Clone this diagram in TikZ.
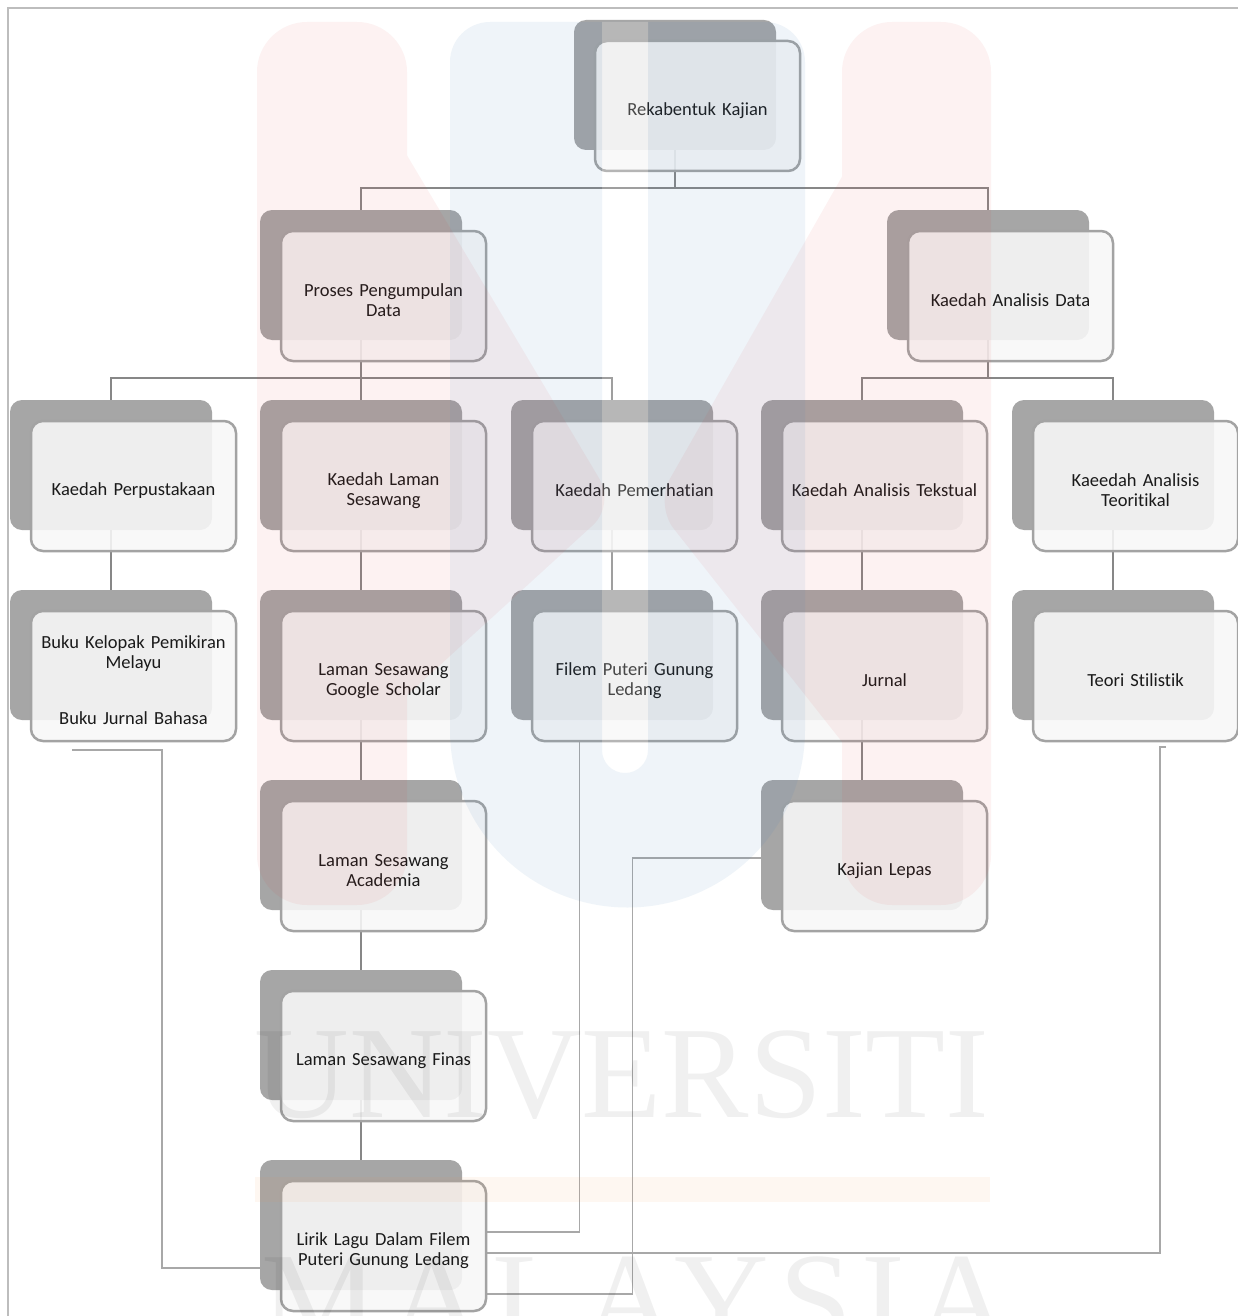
\documentclass[tikz,border=0pt]{standalone}
\usepackage{fontspec}
\setmainfont[Ligatures=NoCommon]{Carlito}
\newfontfamily\wmserif{Liberation Serif}
\usetikzlibrary{calc}
\pgfdeclarelayer{bg}
\pgfdeclarelayer{fg}
\pgfsetlayers{bg,main,fg}
\definecolor{boxgray}{HTML}{A6A6A6}
\definecolor{frontfill}{HTML}{F8F8F8}
\definecolor{bordergray}{HTML}{A3A3A3}
\definecolor{linegray}{HTML}{878787}
\definecolor{sidegray}{HTML}{A8A8A8}
\definecolor{framegray}{HTML}{BDBDBD}
\definecolor{textdark}{HTML}{1A1A1A}
\definecolor{wmpink}{RGB}{225,60,60}
\definecolor{wmblue}{RGB}{70,130,190}
\definecolor{wmorange}{RGB}{250,150,70}
\newcommand\lblfont{\fontsize{18.5}{20}\selectfont}
\newcommand\wmsize{\fontsize{131}{131}\selectfont}
\tikzset{
  backbox/.style={fill=boxgray, rounded corners=12pt, minimum width=202pt, minimum height=130pt, inner sep=0pt, outer sep=0pt},
  frontbox/.style={draw=bordergray, line width=2.5pt, fill=frontfill, fill opacity=0.88, text opacity=1, text=textdark, rounded corners=12pt, minimum width=205pt, minimum height=130pt, inner sep=0pt, align=center, text width=195pt, font=\lblfont, execute at begin node={\rule{0pt}{22pt}}},
  tree/.style={draw=linegray, line width=2.5pt},
  side/.style={draw=sidegray, line width=1.5pt},
}
\newcommand\boxpair[4]{%
  \node[backbox] (b-#1) at (#2,#3) {};
  \node[frontbox] (f-#1) at ($(b-#1.center)+(22.5pt,-21pt)$) {#4};}
\begin{document}
\begin{tikzpicture}[x=1pt,y=-1pt]
\useasboundingbox (0,0) rectangle (1237,1316);
% boxes
\boxpair{top}{675}{85}{Rekabentuk Kajian}
\boxpair{proses}{361}{275}{Proses Pengumpulan\\Data}
\boxpair{anal}{988}{275}{Kaedah Analisis Data}
\boxpair{kp}{111}{465}{Kaedah Perpustakaan}
\boxpair{kls}{361}{465}{Kaedah Laman\\Sesawang}
\boxpair{km}{612}{465}{Kaedah Pemerhatian}
\boxpair{kat}{862}{465}{Kaedah Analisis Tekstual}
\boxpair{kao}{1113}{465}{Kaeedah Analisis\\Teoritikal}
\boxpair{buku}{111}{655}{Buku Kelopak Pemikiran\\Melayu\\[36pt]Buku Jurnal Bahasa}
\boxpair{gs}{361}{655}{Laman Sesawang\\Google Scholar}
\boxpair{filem}{612}{655}{Filem Puteri Gunung\\Ledang}
\boxpair{jurnal}{862}{655}{Jurnal}
\boxpair{teori}{1113}{655}{Teori Stilistik}
\boxpair{acad}{361}{845}{Laman Sesawang\\Academia}
\boxpair{lepas}{862}{845}{Kajian Lepas}
\boxpair{finas}{361}{1035}{Laman Sesawang Finas}
\boxpair{lirik}{361}{1225}{Lirik Lagu Dalam Filem\\Puteri Gunung Ledang}
\coordinate (s1) at (72,750);
\coordinate (s4) at (1166,747);
\begin{pgfonlayer}{bg}
  \fill[white] (0,0) rectangle (1237,1316);
  \draw[framegray, line width=2pt] (8,1320) -- (8,8) -- (1240,8);
  % tree connectors
  \draw[tree] (b-top.south) -- ++(0pt,-38pt);
  \draw[tree] (b-proses.north) -- ++(0pt,22pt) -| (b-anal.north);
  \draw[tree] (b-proses.south) -- (b-kls.north);
  \draw[tree] (b-kp.north) -- ++(0pt,22pt) -| (b-km.north);
  \draw[tree] (b-anal.south) -- ++(0pt,-38pt);
  \draw[tree] (b-kat.north) -- ++(0pt,22pt) -| (b-kao.north);
  \draw[tree] (b-kp.south) -- (b-buku.north);
  \draw[tree] (b-kls.south) -- (b-gs.north);
  \draw[tree] (b-gs.south) -- (b-acad.north);
  \draw[tree] (b-acad.south) -- (b-finas.north);
  \draw[tree] (b-finas.south) -- (b-lirik.north);
  \draw[tree] (b-km.south) -- (b-filem.north);
  \draw[tree] (b-kat.south) -- (b-jurnal.north);
  \draw[tree] (b-jurnal.south) -- (b-lepas.north);
  \draw[tree] (b-kao.south) -- (b-teori.north);
  % side connectors
  \draw[side] (s1) -- ($(s1)+(90pt,0pt)$) |- ([yshift=-43pt]b-lirik.west);
  \draw[side] ([xshift=-55pt]f-filem.south) |- ([yshift=14pt]f-lirik.east);
  \draw[side] ([yshift=-13pt]b-lepas.west) -| ($(f-lirik.east)+(145pt,-48pt)$) -- ([yshift=-48pt]f-lirik.east);
  \draw[side] (s4) -- ++(-6pt,0pt) |- ([yshift=-7pt]f-lirik.east);
\end{pgfonlayer}
% watermark
\begin{pgfonlayer}{fg}
\begin{scope}
  \clip (0,0) rectangle (1237,1316);
  \begin{scope}[transparency group, opacity=0.065]
    \fill[wmpink, rounded corners=50pt] (257,22) rectangle (407,905);
    \fill[wmpink, rounded corners=50pt] (842,22) rectangle (991,905);
    \fill[wmpink, rounded corners=30pt] (380,110) -- (615,505) -- (380,720) -- cycle;
    \fill[wmpink, rounded corners=30pt] (880,110) -- (655,505) -- (880,790) -- cycle;
  \end{scope}
  \fill[wmblue, opacity=0.085, even odd rule]
    (450,62) arc[start angle=180, end angle=90, radius=40pt] -- (765,22)
    arc[start angle=90, end angle=0, radius=40pt] -- (805,730)
    arc[start angle=0, end angle=-180, radius=177.5pt] -- cycle
    (602,22) -- (648,22) -- (648,750) arc[start angle=0, end angle=-180, radius=23pt] -- cycle;
  \fill[white, opacity=0.2]
    (602,22) -- (648,22) -- (648,750) arc[start angle=0, end angle=-180, radius=23pt] -- cycle;
  \fill[wmorange, opacity=0.07] (255,1177) rectangle (990,1202);
  \node[anchor=base, inner sep=0pt, font=\wmserif\wmsize, text=black, text opacity=0.06] (wm1) at (622,1117) {UNIVERSITI};
  \node[anchor=base, inner sep=0pt, font=\wmserif\wmsize\addfontfeature{LetterSpace=7.5}, text=black, text opacity=0.06] (wm2) at (636,1343) {MALAYSIA};
\end{scope}
\end{pgfonlayer}
\end{tikzpicture}
\end{document}
